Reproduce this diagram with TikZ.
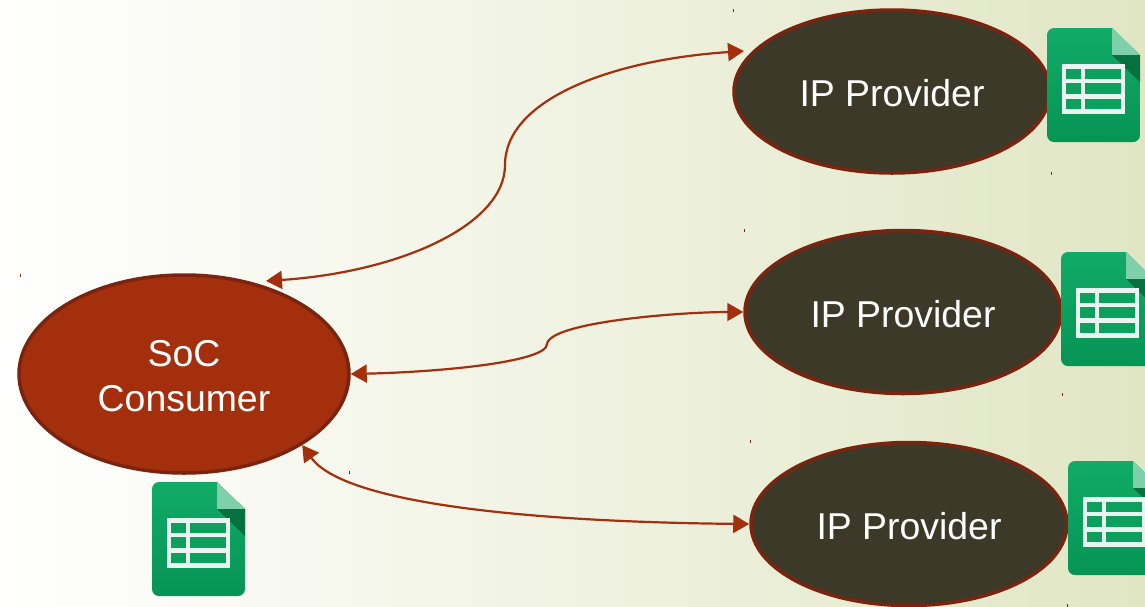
\documentclass[tikz,border=0pt]{standalone}
\usepackage{fontspec}
\setmainfont{Liberation Sans}
\usetikzlibrary{arrows.meta,shapes.geometric}
\definecolor{rust}{HTML}{A32F0D}
\definecolor{rustdark}{HTML}{7A2410}
\definecolor{olive}{HTML}{3D3929}
\definecolor{sheettop}{HTML}{10AB66}
\definecolor{sheetbot}{HTML}{079455}
\definecolor{sheetcell}{HTML}{0CA05C}
\definecolor{sheetgrid}{HTML}{E8F5F0}
\definecolor{foldlight}{HTML}{7ECFAA}
\definecolor{folddark}{HTML}{06703E}
\tikzset{
  party/.style={ellipse,draw=rustdark,line width=3.5pt,inner sep=0pt,text=white,
    align=center,font=\fontsize{37.4}{45}\selectfont},
  provider/.style={party,fill=olive,minimum width=316pt,minimum height=163pt,
    text height=30pt,text depth=0pt},
  consumer/.style={party,fill=rust,minimum width=330pt,minimum height=198pt,
    text height=74pt,text depth=0pt},
  link/.style={draw=rust,line width=2.2pt,{Triangle[length=16pt,width=18pt]}-{Triangle[length=16pt,width=18pt]}},
  sheeticon/.pic={
    \shade[top color=sheettop,bottom color=sheetbot,rounded corners=7pt]
      (30,0) [sharp corners] -- (65,0) -- (93,27) [rounded corners=7pt] -- (93,114) -- (0,114) -- (0,0) -- cycle;
    \fill[foldlight] (65,0) -- (93,27) -- (65,27) -- cycle;
    \fill[folddark] (65,27) -- (93,27) -- (93,54) -- cycle;
    \fill[sheetgrid] (15,36) rectangle (78,86);
    \foreach \ya/\yb in {41/51,55/66,71/81} {
      \fill[sheetcell] (19,\ya) rectangle (34,\yb);
      \fill[sheetcell] (38,\ya) rectangle (74,\yb);
    }
  }
}
\begin{document}
\begin{tikzpicture}[x=1pt,y=-1pt]
  \useasboundingbox (0,0) rectangle (1145,606);
  \clip (0,0) rectangle (1145,606);
  \shade[left color=white,middle color={rgb,255:red,238;green,242;blue,222},right color={rgb,255:red,224;green,230;blue,196}]
    (0,0) rectangle (1145,606);
  \foreach \x/\y in {733/10,1051/173,744/230,1062/394,750/441,20/275,349/472,1067/605}
    \fill[rustdark] (\x-0.5,\y-1.5) rectangle +(1,3);

  \node [consumer] (soc) at (184,374) {SoC\\Consumer};
  \node [provider] (ipa) at (892,91.5) {IP Provider};
  \node [provider] (ipb) at (903,312) {IP Provider};
  \node [provider] (ipc) at (909,524) {IP Provider};

  \foreach \x/\y in {1047/28,1061/252,1068/461,152/482}
    \pic at (\x,\y) {sheeticon};

  \coordinate (soctop) at (266,281);
  \coordinate (ipatip) at (744,51);
  \path [link] (soctop) .. controls (400,272) and (505,225) .. (505,165)
    .. controls (505,100) and (610,60) .. (ipatip);
  \path [link] (soc.east) .. controls (440,372) and (547,362) .. (547,344)
    .. controls (550,322) and (680,312) .. (ipb.west);
  \path [link] (soc.-31) .. controls (345,505) and (540,522) .. (ipc.west);
\end{tikzpicture}
\end{document}
